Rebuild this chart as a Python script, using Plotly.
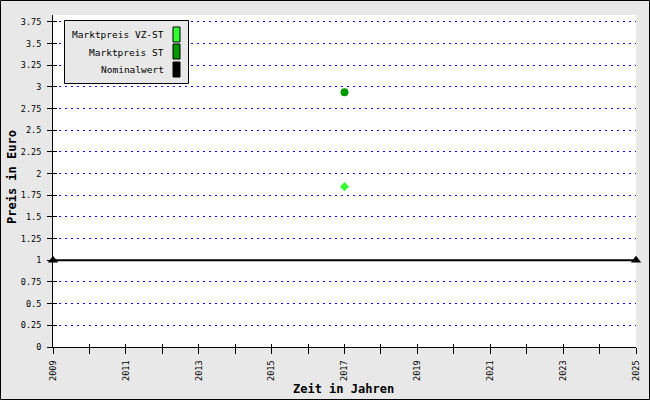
import plotly.graph_objects as go

# ---- data ----
years_vz = [2017]
price_vz = [1.85]
years_st = [2017]
price_st = [2.94]
years_nom = [2009, 2025]
price_nom = [1, 1]
series_names = ["Marktpreis VZ-ST", "Marktpreis ST", "Nominalwert"]
series_colors = ["#33ff33", "#009900", "#000000"]
y_ticks = [0, 0.25, 0.5, 0.75, 1, 1.25, 1.5, 1.75, 2, 2.25, 2.5, 2.75, 3, 3.25, 3.5, 3.75]
y_ticktext = ["0", "0.25", "0.5", "0.75", "1", "1.25", "1.5", "1.75", "2", "2.25", "2.5", "2.75", "3", "3.25", "3.5", "3.75"]
x_ticks = list(range(2009, 2026))
x_ticktext = [str(y) if (y - 2009) % 2 == 0 else "" for y in x_ticks]
x_title = "Zeit in Jahren"
y_title = "Preis in Euro"

W, H = 650, 400
L, R, T, B = 53, 14, 15, 53
PW, PH = W - L - R, H - T - B
FONT = "DejaVu Sans Mono"
X_RANGE = [2009, 2025]
Y_RANGE = [0, 3.83]

def px(x):
    return (x - L) / PW

def py(y):
    return (H - B - y) / PH

fig = go.Figure()
fig.add_trace(go.Scatter(x=years_nom, y=price_nom, mode="lines+markers", name=series_names[2],
                         xaxis="x2", yaxis="y2",
                         line=dict(color=series_colors[2], width=2),
                         marker=dict(symbol="triangle-up", size=9, color=series_colors[2]),
                         cliponaxis=False))
fig.add_trace(go.Scatter(x=years_st, y=price_st, mode="markers", name=series_names[1],
                         marker=dict(symbol="circle", size=8, color=series_colors[1])))
fig.add_trace(go.Scatter(x=years_vz, y=price_vz, mode="markers", name=series_names[0],
                         marker=dict(symbol="diamond", size=7, color=series_colors[0])))

shapes = []
annotations = []
# outer border
shapes.append(dict(type="rect", xref="paper", yref="paper",
                   x0=px(0.5), x1=px(W - 0.5), y0=py(H - 0.5), y1=py(0.5),
                   line=dict(color="black", width=1), fillcolor="rgba(0,0,0,0)", layer="below"))
# legend box
shapes.append(dict(type="rect", xref="paper", yref="paper",
                   x0=px(64.5), x1=px(188.5), y0=py(83.5), y1=py(20.5),
                   line=dict(color="black", width=1), fillcolor="#e8e8e8", layer="above"))
rows = [(27, 42), (44, 59), (62, 77)]
for (top, bot), name, col in zip(rows, series_names, series_colors):
    shapes.append(dict(type="rect", xref="paper", yref="paper",
                       x0=px(173), x1=px(180), y0=py(bot), y1=py(top),
                       line=dict(color="black", width=1), fillcolor=col, layer="above"))
    annotations.append(dict(xref="paper", yref="paper", x=px(166), y=py((top + bot) / 2 + 0.5),
                            text=name, showarrow=False, xanchor="right", yanchor="middle",
                            font=dict(family=FONT, size=9.5, color="black")))
# axis titles
annotations.append(dict(xref="paper", yref="paper", x=px(343.5), y=py(389),
                        text="<b>%s</b>" % x_title, showarrow=False, xanchor="center", yanchor="middle",
                        font=dict(family=FONT, size=12, color="black")))
annotations.append(dict(xref="paper", yref="paper", x=px(12), y=py(177), textangle=-90,
                        text="<b>%s</b>" % y_title, showarrow=False, xanchor="center", yanchor="middle",
                        font=dict(family=FONT, size=12, color="black")))

tickfont = dict(family=FONT, size=8.5, color="black")
fig.update_layout(
    width=W, height=H,
    margin=dict(l=L, r=R, t=T, b=B, pad=0, autoexpand=False),
    paper_bgcolor="#e8e8e8", plot_bgcolor="white",
    showlegend=False,
    shapes=shapes, annotations=annotations,
    font=dict(family=FONT, size=10, color="black"),
    xaxis=dict(range=X_RANGE, tickvals=x_ticks, ticktext=x_ticktext, tickangle=-90,
               ticks="outside", ticklen=6, tickcolor="black", showgrid=False, zeroline=False,
               showline=True, linecolor="black", linewidth=1, automargin=False,
               ticklabelstandoff=3, tickfont=tickfont),
    yaxis=dict(range=Y_RANGE, tickvals=y_ticks, ticktext=y_ticktext,
               ticks="outside", ticklen=5, tickcolor="black",
               showgrid=True, gridcolor="#0000ff", griddash="2px,4px", gridwidth=1, zeroline=False,
               showline=True, linecolor="black", linewidth=1, automargin=False,
               ticklabelstandoff=4, tickfont=tickfont),
    xaxis2=dict(range=X_RANGE, overlaying="x", anchor="y2", side="bottom", tickvals=x_ticks,
                ticks="inside", ticklen=3, tickcolor="black", showticklabels=False,
                showgrid=False, zeroline=False, showline=False, automargin=False),
    yaxis2=dict(range=Y_RANGE, overlaying="y", anchor="x2", side="left", tickvals=y_ticks,
                ticks="inside", ticklen=4, tickcolor="black", showticklabels=False,
                showgrid=False, zeroline=False, showline=False, automargin=False),
)

fig.write_html("out.html", config={"displayModeBar": False},
               post_script="document.body.style.margin='0';document.body.style.overflow='hidden';")
